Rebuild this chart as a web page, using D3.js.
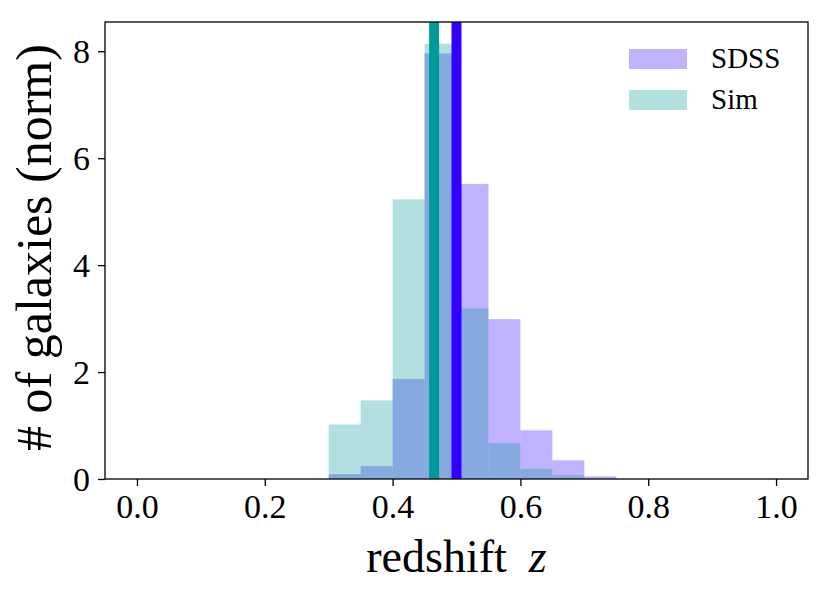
<!DOCTYPE html>
<html>
<head>
<meta charset="utf-8">
<script src="https://cdn.jsdelivr.net/npm/d3@7"></script>
</head>
<body style="margin:0; background:#fff">
<div class="chart"></div>
<script>
// left edges of the histogram bins (width 0.05)
const binStarts = [0.00, 0.05, 0.10, 0.15, 0.20, 0.25, 0.30, 0.35, 0.40, 0.45,
                   0.50, 0.55, 0.60, 0.65, 0.70, 0.75, 0.80, 0.85, 0.90, 0.95];
const binWidth = 0.05;

// normalised counts
const sdssValues = [0, 0, 0, 0, 0, 0, 0.09, 0.24, 1.87, 7.96,
                    5.52, 2.99, 0.91, 0.35, 0.05, 0, 0, 0, 0, 0];
const simValues  = [0, 0, 0, 0, 0, 0, 1.02, 1.47, 5.23, 8.14,
                    3.19, 0.67, 0.19, 0.07, 0, 0, 0, 0, 0, 0];

// mean redshift of each sample
const simMean = 0.465;
const sdssMean = 0.50;

const xTicks = [0.0, 0.2, 0.4, 0.6, 0.8, 1.0];
const yTicks = [0, 2, 4, 6, 8];

const series = [
    { name: 'SDSS', color: '#3300ff', values: sdssValues },
    { name: 'Sim',  color: '#009999', values: simValues }
];

const FONT = '"Liberation Serif"';
const width = 830;
const height = 595;
const margin = { left: 105, right: 22, top: 22, bottom: 116 };

const svg = d3.select('.chart').append('svg')
    .attr('width', width).attr('height', height)
    .attr('viewBox', '0 0 ' + width + ' ' + height)
    .attr('font-family', 'Liberation Serif');

// matplotlib style 5% margins
const x = d3.scaleLinear()
    .domain([-0.05, 1.05])
    .range([margin.left, width - margin.right]);

const yMax = d3.max(series, s => d3.max(s.values)) * 1.05;
const y = d3.scaleLinear()
    .domain([0, yMax])
    .range([height - margin.bottom, margin.top]);

// histogram bars, SDSS first then Sim on top
series.forEach(function(s) {
    svg.append('g')
        .selectAll('rect')
        .data(binStarts.map((b, i) => ({ x0: b, x1: b + binWidth, v: s.values[i] }))
              .filter(d => d.v > 0))
        .enter()
        .append('rect')
        .attr('x', d => x(d.x0))
        .attr('width', d => x(d.x1) - x(d.x0))
        .attr('y', d => y(d.v))
        .attr('height', d => y(0) - y(d.v))
        .attr('fill', s.color)
        .attr('fill-opacity', 0.3);
});

// mean lines
[{ z: simMean, color: '#009999' }, { z: sdssMean, color: '#3300ff' }].forEach(function(m) {
    svg.append('line')
        .attr('x1', x(m.z)).attr('x2', x(m.z))
        .attr('y1', y(yMax)).attr('y2', y(0))
        .attr('stroke', m.color)
        .attr('stroke-width', 10);
});

// axes
const xAxis = svg.append('g')
    .attr('transform', 'translate(0,' + y(0) + ')')
    .call(d3.axisBottom(x).tickValues(xTicks).tickFormat(d3.format('.1f'))
          .tickSize(7).tickPadding(8));
const yAxis = svg.append('g')
    .attr('transform', 'translate(' + x(-0.05) + ',0)')
    .call(d3.axisLeft(y).tickValues(yTicks).tickFormat(d3.format('d'))
          .tickSize(7).tickPadding(8));

[xAxis, yAxis].forEach(function(a) {
    a.attr('font-family', 'Liberation Serif');
    a.select('.domain').remove();
    a.selectAll('.tick line').attr('stroke', '#000').attr('stroke-width', 1.3);
    a.selectAll('.tick text')
        .style('font-family', FONT)
        .style('font-size', '34px')
        .attr('fill', '#000');
});
xAxis.selectAll('.tick text').attr('dy', '0.72em');
yAxis.selectAll('.tick text').attr('dy', '0.34em');

// frame
svg.append('rect')
    .attr('x', x(-0.05)).attr('y', y(yMax))
    .attr('width', x(1.05) - x(-0.05))
    .attr('height', y(0) - y(yMax))
    .attr('fill', 'none')
    .attr('stroke', '#000')
    .attr('stroke-width', 1.3);

// axis labels
const xLabel = svg.append('text')
    .attr('x', (x(-0.05) + x(1.05)) / 2)
    .attr('y', 572)
    .attr('text-anchor', 'middle')
    .style('font-family', FONT)
    .style('font-size', '46px');
xLabel.append('tspan').text('redshift');
xLabel.append('tspan').attr('dx', 22).style('font-style', 'italic').text('z');

svg.append('text')
    .attr('transform', 'translate(51,' + ((y(0) + y(yMax)) / 2 - 3) + ') rotate(-90)')
    .attr('text-anchor', 'middle')
    .style('font-family', FONT)
    .style('font-size', '50px')
    .text('# of galaxies (norm)');

// legend
const legend = svg.append('g').attr('transform', 'translate(629,49)');
const item = legend.selectAll('g')
    .data(series)
    .enter()
    .append('g')
    .attr('transform', (d, i) => 'translate(0,' + (i * 41) + ')');
item.append('rect')
    .attr('width', 58).attr('height', 20)
    .attr('fill', d => d.color)
    .attr('fill-opacity', 0.3);
item.append('text')
    .attr('x', 82).attr('y', 19)
    .style('font-family', FONT)
    .style('font-size', '29px')
    .text(d => d.name);
</script>
</body>
</html>
